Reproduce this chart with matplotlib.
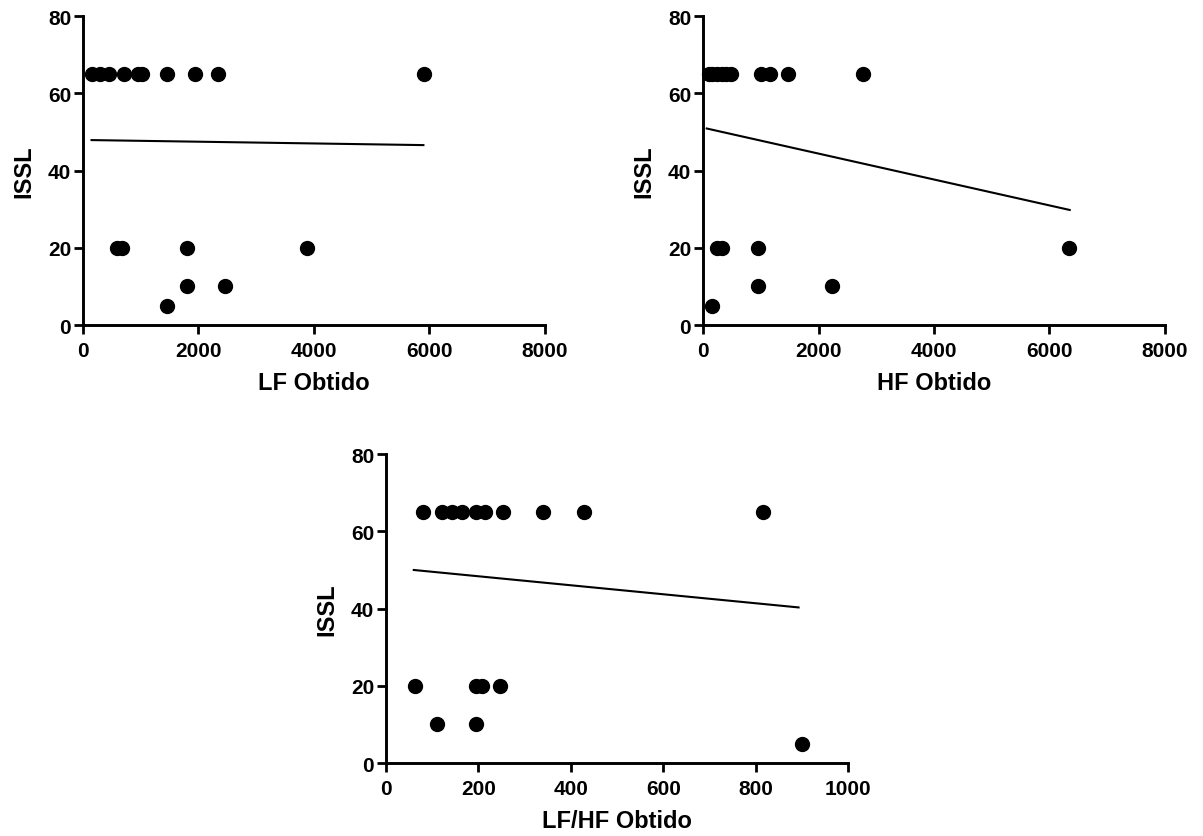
import matplotlib
matplotlib.use('Agg')
import matplotlib.pyplot as plt

plt.rcParams['font.family'] = ['Liberation Sans', 'DejaVu Sans']
plt.rcParams['font.weight'] = 'bold'

# ISSL values (same order for all three panels)
issl = [65, 65, 65, 65, 65, 65, 65, 65, 65, 65,
        20, 20, 20, 20,
        10, 10,
        5]

lf = [148, 302, 443, 702, 949, 1029, 1454, 1934, 2335, 5905,
      590, 680, 1793, 3875,
      1793, 2458,
      1454]

hf = [100, 160, 250, 330, 400, 480, 1003, 1163, 1466, 2765,
      250, 330, 951, 6336,
      951, 2225,
      148]

lfhf = [81, 122, 143, 165, 195, 215, 253, 340, 428, 816,
        62, 195, 207, 247,
        111, 195,
        901]

# regression lines: (x start, x end), (y start, y end)
lf_fit_x = [148, 5895]
lf_fit_y = [47.9, 46.6]
hf_fit_x = [64, 6350]
hf_fit_y = [50.9, 29.8]
lfhf_fit_x = [60, 893]
lfhf_fit_y = [50.0, 40.3]


def scatter_panel(fig, rect, x, y, fit_x, fit_y, xmax, xticks, xlabel):
    ax = fig.add_axes(rect)
    ax.plot(x, y, 'o', color='black', markersize=10, clip_on=False, zorder=3)
    ax.plot(fit_x, fit_y, '-', color='black', linewidth=1.5)
    ax.set_xlim(0, xmax)
    ax.set_ylim(0, 80)
    ax.set_xticks(xticks)
    ax.set_yticks([0, 20, 40, 60, 80])
    for side in ['top', 'right']:
        ax.spines[side].set_visible(False)
    for side in ['left', 'bottom']:
        ax.spines[side].set_linewidth(2.1)
    ax.tick_params(axis='both', direction='out', length=6.5, width=2.0, labelsize=15)
    ax.tick_params(axis='x', pad=5)
    ax.tick_params(axis='y', pad=2)
    for lbl in ax.get_xticklabels() + ax.get_yticklabels():
        lbl.set_fontweight('bold')
    ax.set_xlabel(xlabel, fontsize=17, fontweight='bold', labelpad=8)
    ax.set_ylabel('ISSL', fontsize=17, fontweight='bold', labelpad=9)
    return ax


fig = plt.figure(figsize=(12.03, 8.37), dpi=100)

scatter_panel(fig, [0.069, 0.6105, 0.384, 0.369], lf, issl, lf_fit_x, lf_fit_y,
              8000, [0, 2000, 4000, 6000, 8000], 'LF Obtido')
scatter_panel(fig, [0.5844, 0.6105, 0.384, 0.369], hf, issl, hf_fit_x, hf_fit_y,
              8000, [0, 2000, 4000, 6000, 8000], 'HF Obtido')
scatter_panel(fig, [0.3209, 0.0872, 0.384, 0.369], lfhf, issl, lfhf_fit_x, lfhf_fit_y,
              1000, [0, 200, 400, 600, 800, 1000], 'LF/HF Obtido')

fig.savefig('out.png', dpi=100)
